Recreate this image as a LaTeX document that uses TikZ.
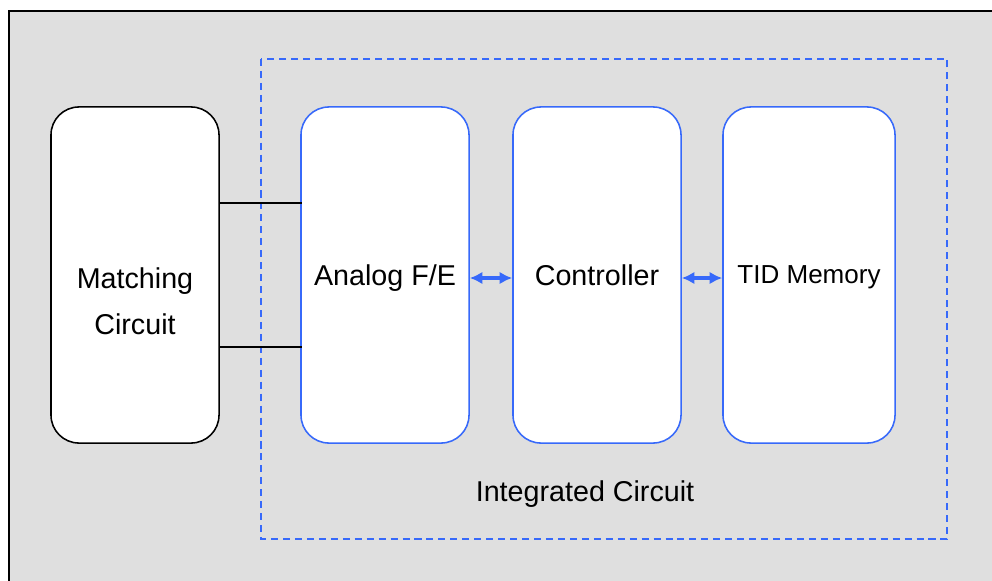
\documentclass[tikz,border=0pt]{standalone}
\usepackage{fontspec}
\setmainfont{Liberation Sans}
\usepackage{tikz}
\usetikzlibrary{shapes,arrows,arrows.meta,positioning,calc}

\definecolor{icblue}{RGB}{55,105,250}
\definecolor{panelgray}{RGB}{223,223,223}

\begin{document}
\begin{tikzpicture}[x = 0.025cm, y = -0.025cm, > = {Latex[length = 9pt, width = 9pt]}, font = \fontsize{20.4}{24}\selectfont]
    \tikzset{
      block/.style = {draw, fill = white, rounded corners = 0.7cm, line width = 1.1pt,
                      minimum width = 4.2cm, minimum height = 8.4cm, align = center,
                      text depth = 0pt},
      icblock/.style = {block, draw = icblue},
      link/.style = {line width = 1pt},
      bus/.style = {<->, icblue, line width = 2.2pt},
    }

    \useasboundingbox (0, 0) rectangle (992, 580);
    \clip (0, 0) rectangle (992, 580);
    \fill [white] (0, 0) rectangle (992, 580);
    \draw [fill = panelgray, line width = 1.4pt] (9, 11) rectangle (1010, 600);
    \draw [icblue, line width = 1.1pt, dash pattern = on 5pt off 3.5pt] (261, 59) rectangle (947, 539);

    \node [block] (match) at (135, 275) {};
    \node [align = center] (matchtext) at (135, 301) {Matching\\[9pt]Circuit};
    \node [icblock] (analog) at (385, 275) {Analog F/E};
    \node [icblock] (ctrl) at (597, 275) {Controller};
    \node [icblock, minimum width = 4.3cm, font = \fontsize{18.5}{22}\selectfont] (tid) at (809, 275) {TID Memory};
    \node (ic) at (585, 494) {Integrated Circuit};

    \draw [link] ([yshift = 1.8cm]match.east) -- ([yshift = 1.8cm, xshift = 0.05cm]analog.west);
    \draw [link] ([yshift = -1.8cm]match.east) -- ([yshift = -1.8cm, xshift = 0.05cm]analog.west);

    \draw [bus] ([yshift = -0.075cm]analog.east) -- ([yshift = -0.075cm]ctrl.west);
    \draw [bus] ([yshift = -0.075cm]ctrl.east) -- ([yshift = -0.075cm]tid.west);
  \end{tikzpicture}
\end{document}
